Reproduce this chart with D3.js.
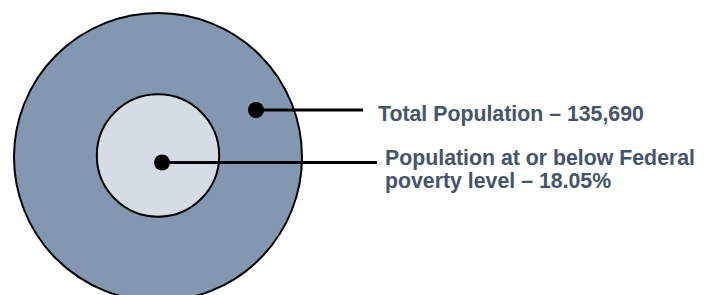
<!DOCTYPE html>
<html>
<head>
<meta charset="utf-8">
<script src="https://cdnjs.cloudflare.com/ajax/libs/d3/7.8.5/d3.min.js"></script>
<style>
    body { margin: 0; background: #fff; }
    .label-text { font-family: "Liberation Sans", Arial, sans-serif; font-weight: bold; font-size: 21.3px; fill: #44546A; }
</style>
</head>
<body>
<div id="chart"></div>
<script>
// data
let groups = ["Total Population", "Population at or below Federal poverty level"];
let shares = [1, 0.1805];
let labelLines = [
    ["Total Population \u2013 135,690"],
    ["Population at or below Federal", "poverty level \u2013 18.05%"]
];

let width = 709, height = 295;

let svg = d3.select("#chart").append("svg")
    .attr("width", width)
    .attr("height", height);

// circle area proportional to share of population
let r = d3.scaleSqrt()
    .domain([0, 1])
    .range([0, 144]);

let colors = d3.scaleOrdinal()
    .domain(groups)
    .range(["#8497B0", "#D6DCE5"]);

let cx = 158, cy = 157;

svg.selectAll("circle.ring")
    .data(groups)
    .enter()
    .append("circle")
    .attr("class", "ring")
    .attr("cx", cx)
    .attr("cy", (d, i) => i == 0 ? cy : cy - 1.5)
    .attr("r", (d, i) => r(shares[i]))
    .attr("fill", d => colors(d))
    .attr("stroke", "#000")
    .attr("stroke-width", 2);

// leader lines: dot inside each ring, line out to the label
let anchors = [
    { x: 256, y: 110, lineEnd: 363, textX: 378, baseline: 120.5 },
    { x: 162, y: 162.5, lineEnd: 377, textX: 385, baseline: 165 }
];

let callouts = svg.selectAll("g.callout")
    .data(groups)
    .enter()
    .append("g")
    .attr("class", "callout");

callouts.append("line")
    .attr("x1", (d, i) => anchors[i].x)
    .attr("y1", (d, i) => anchors[i].y)
    .attr("x2", (d, i) => anchors[i].lineEnd)
    .attr("y2", (d, i) => anchors[i].y)
    .attr("stroke", "#000")
    .attr("stroke-width", 3);

callouts.append("circle")
    .attr("cx", (d, i) => anchors[i].x)
    .attr("cy", (d, i) => anchors[i].y)
    .attr("r", 8)
    .attr("fill", "#000");

callouts.append("text")
    .attr("class", "label-text")
    .attr("x", (d, i) => anchors[i].textX)
    .attr("y", (d, i) => anchors[i].baseline)
    .each(function(d, i) {
        d3.select(this).selectAll("tspan")
            .data(labelLines[i])
            .enter()
            .append("tspan")
            .attr("x", anchors[i].textX)
            .attr("dy", (t, j) => j == 0 ? 0 : 22.5)
            .text(t => t);
    });
</script>
</body>
</html>
